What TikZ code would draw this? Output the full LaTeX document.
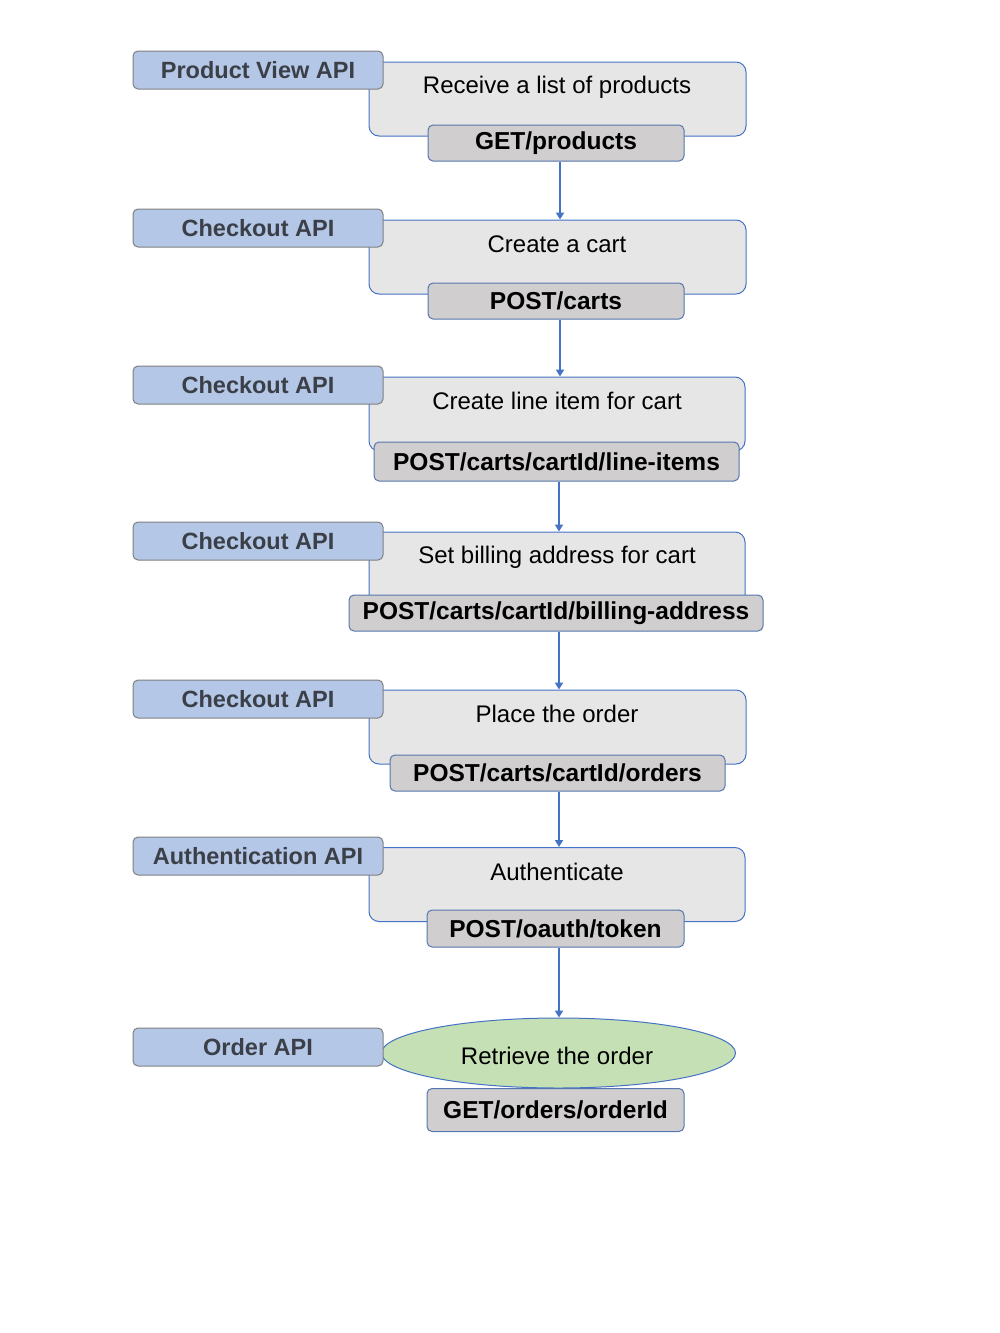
\documentclass[tikz,border=0pt]{standalone}
\usepackage{fontspec}
\setmainfont{Liberation Sans}
\usetikzlibrary{arrows.meta,shapes.geometric}
\definecolor{apifill}{HTML}{B4C7E7}
\definecolor{apitext}{HTML}{3B3F47}
\definecolor{apiedge}{HTML}{808080}
\definecolor{stepfill}{HTML}{E7E6E6}
\definecolor{edgeblue}{HTML}{4472C4}
\definecolor{methfill}{HTML}{D0CECE}
\definecolor{okfill}{HTML}{C5E0B4}
\tikzset{
  apibox/.style={draw=apiedge, line width=1pt, fill=apifill, rounded corners=5pt,
    minimum width=250pt, minimum height=38pt, inner sep=0pt, text=apitext,
    font=\fontsize{23.5}{26}\selectfont\bfseries},
  stepbox/.style={draw=edgeblue, line width=1pt, fill=stepfill, rounded corners=10pt,
    minimum height=74pt, inner sep=0pt},
  steptext/.style={inner sep=0pt, font=\fontsize{24}{28}\selectfont},
  methbox/.style={draw=edgeblue!70!gray, line width=1pt, fill=methfill, rounded corners=5pt,
    minimum height=36pt, inner sep=0pt, font=\fontsize{24.5}{27}\selectfont\bfseries},
  flow/.style={draw=edgeblue, line width=2.2pt, -{Triangle[length=7pt,width=8pt]}},
}
\begin{document}
\begin{tikzpicture}[x=1pt,y=-1pt]
\useasboundingbox (0,0) rectangle (1000,1333);
% Row 1
\node[stepbox, minimum width=377pt] (b1) at (557.5,99) {};
\node[apibox] (a1) at (258,70) {Product View API};
\node[steptext] (t1) at (557,87) {Receive a list of products};
\node[methbox, minimum width=256pt] (m1) at (556,143) {GET/products};
% Row 2
\node[stepbox, minimum width=377pt] (b2) at (557.5,257) {};
\node[apibox] (a2) at (258,228) {Checkout API};
\node[steptext] (t2) at (557,244) {Create a cart};
\node[methbox, minimum width=256pt] (m2) at (556,301) {POST/carts};
% Row 3
\node[stepbox, minimum width=376pt] (b3) at (557,414) {};
\node[apibox] (a3) at (258,385) {Checkout API};
\node[steptext] (t3) at (557,401) {Create line item for cart};
\node[methbox, minimum width=365pt, minimum height=39pt] (m3) at (556.5,461.5) {POST/carts/cartId/line-items};
% Row 4
\node[stepbox, minimum width=376pt] (b4) at (557,569) {};
\node[apibox] (a4) at (258,541) {Checkout API};
\node[steptext] (t4) at (557,557) {Set billing address for cart};
\node[methbox, minimum width=414pt] (m4) at (556,613) {POST/carts/cartId/billing-address};
% Row 5
\node[stepbox, minimum width=377pt] (b5) at (557.5,727) {};
\node[apibox] (a5) at (258,699) {Checkout API};
\node[steptext] (t5) at (557,714) {Place the order};
\node[methbox, minimum width=335pt] (m5) at (557.5,773) {POST/carts/cartId/orders};
% Row 6
\node[stepbox, minimum width=376pt] (b6) at (557,884.5) {};
\node[apibox] (a6) at (258,856) {Authentication API};
\node[steptext] (t6) at (557,872) {Authenticate};
\node[methbox, minimum width=257pt, minimum height=37pt] (m6) at (555.5,928.5) {POST/oauth/token};
% Row 7
\node[ellipse, draw=edgeblue, line width=1pt, fill=okfill, minimum width=354pt, minimum height=70pt, inner sep=0pt] (e7) at (558.5,1053) {};
\node[apibox] (a7) at (258,1047) {Order API};
\node[steptext] (t7) at (557,1056) {Retrieve the order};
\node[methbox, minimum width=257pt, minimum height=43pt] (m7) at (555.5,1110) {GET/orders/orderId};
% Connectors
\draw[flow] (m1.south -| 560,0) -- (560,0 |- b2.north);
\draw[flow] (m2.south -| 560,0) -- (560,0 |- b3.north);
\draw[flow] (m3.south -| 559,0) -- (559,0 |- b4.north);
\draw[flow] (m4.south -| 559,0) -- (559,0 |- b5.north);
\draw[flow] (m5.south -| 559,0) -- (559,0 |- b6.north);
\draw[flow] (m6.south -| 559,0) -- (559,0 |- e7.north);
\end{tikzpicture}
\end{document}
